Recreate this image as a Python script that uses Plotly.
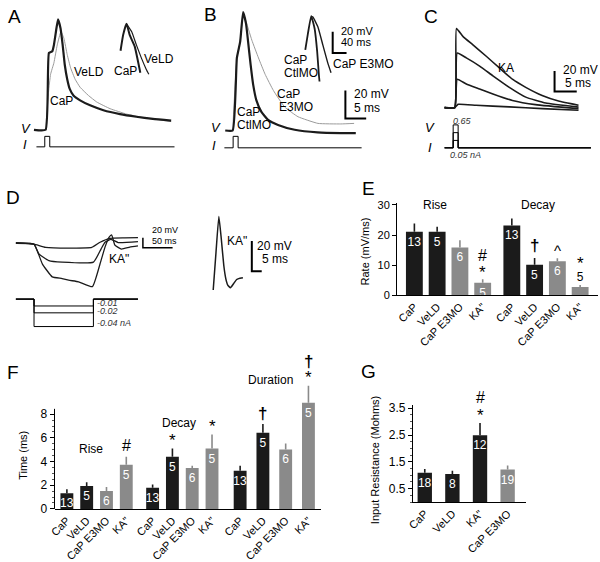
import plotly.graph_objects as go

W, H = 600, 562
FONT = "Liberation Sans, Arial, Helvetica, sans-serif"
BLACK = "#1b1b1b"
GRAY = "#8a8a8a"

# ---------------- DATA ----------------
# Panel A: action potentials (time ms, potential mV relative to rest)
a_t_cap = [-2.8, 0, 0.8, 1.6, 2.0, 2.6, 3.0, 3.6, 4.1, 4.6, 5.2, 5.8, 6.7, 8.3, 10.7, 13.9, 17.9, 21.8, 25.8, 30.2]
a_v_cap = [0, 0, 55.3, 56.5, 61.1, 72.9, 79.5, 72.9, 61.1, 47.0, 36.4, 29.4, 24.7, 21.2, 17.6, 14.1, 11.3, 9.4, 7.8, 6.6]
a_t_veld = [0, 0.7, 1.2, 2.0, 2.8, 3.7, 4.4, 5.2, 6.0, 7.1, 8.3, 10.3, 12.3, 15.5, 19.5, 23.4, 27.4, 30.2]
a_v_veld = [0, 27, 40, 48.2, 61.1, 70.6, 65.8, 54.1, 44.7, 36.4, 30.6, 24.7, 20.0, 15.2, 11.3, 8.9, 7.1, 5.9]
a_in_t_cap = [0, 7.4, 17.1, 26.6, 40.9, 50.3, 57.1]
a_in_v_cap = [0, 14.7, 25.5, 14.7, 4.1, -9.8, -20.6]
a_in_t_veld = [17.1, 24, 32.3, 45.7, 60, 74.3, 81.7]
a_in_v_veld = [25.5, 22, 17.9, 5.5, -6.7, -17.5, -22.1]
a_stim_t = [-2.2, -0.2, -0.2, 1.0, 1.0, 31.0]
a_stim_i = [0, 0, 0.65, 0.65, 0, 0]

# Panel B
b_t_ctl = [-1.8, 0, 1.0, 1.8, 2.5, 3.2, 3.7, 4.3, 4.9, 5.7, 6.9, 8.5, 10.9, 14.9, 20.4, 26.0, 29.6]
b_v_ctl = [0, 0, 52.2, 64, 85.2, 76.9, 64, 47.5, 33.4, 21.7, 13.4, 7.6, 4.0, 0.5, -1.4, -1.9, -1.9]
b_t_e3 = [0, 1.0, 1.8, 2.5, 3.0, 4.6, 6.2, 7.8, 9.8, 12.5, 15.7, 20.5, 26.0, 29.2]
b_v_e3 = [0, 52.2, 64, 84, 80.4, 65, 52.2, 40.4, 28.7, 16.9, 9.9, 5.1, 4.7, 5.1]
b_in_t_ctl = [0, 7.7, 17.1, 26.9, 34.3, 39.1, 41.1]
b_in_v_ctl = [0, 15.4, 31.7, 20, -1.5, -23, -29.8]
b_in_t_e3 = [17.1, 22, 36.3, 50.6, 64.9, 74.3]
b_in_v_e3 = [31.7, 30.8, 21.6, 4.6, -12.3, -21.5]
b_stim_t = [-2.0, 0.1, 0.1, 1.3, 1.3, 31.0]
b_stim_i = [0, 0, 0.65, 0.65, 0, 0]

# Panel C: KA responses to graded steps
c_t = [
    [-2.3, 0, 0.38, 1.88, 4.1, 7.1, 10.0, 13.0, 16.0, 19.7, 23.4, 27.9],
    [-2.3, 0, 0.54, 2.6, 5.6, 8.6, 12.3, 16.0, 20.5, 27.9],
    [-2.3, 0, 0.54, 2.6, 5.6, 8.6, 13.0, 18.2, 27.9],
    [-2.3, 0, 0.76, 4.8, 12.3, 19.7, 27.9],
]
c_v = [
    [0, 0, 76.9, 69, 61, 49.9, 38.8, 27.6, 19.7, 11.8, 6.4, 2.3],
    [0, 0, 53, 48.3, 40.4, 30.9, 19.7, 10.2, 4.5, 0.5],
    [0, 0, 27.6, 22.9, 18.1, 13.3, 7.0, 2.9, -1.0],
    [0, 0, 3.2, 2.3, 0.7, -1.0, -2.5],
]
c_stim_t = [-2.3, -0.36, -0.36, 0.76, 0.76, 30.7]
c_stim_levels = [0.21, 0.43, 0.65]

# Panel D: hyperpolarizing steps and rebound spike
d_t = [
    [-30.5, 0, 19.5, 64, 97.3, 111.2, 127.8, 152.8, 175],
    [-30.5, 0, 8.3, 25, 47.3, 100, 112.8, 119.5, 129.5, 141.7, 175],
    [-30.5, 0, 14, 30.7, 47.3, 58.3, 75, 98.3, 111.2, 119.5, 126.2, 130.7, 136.2, 147.3, 161.2, 175],
]
d_v = [
    [1.4, -2, -8.6, -10, -8.6, 2, 10, 11, 11.4],
    [0, -2, -22, -35.4, -38.6, -38.6, -12, 2, 8, 1.4, 3.4],
    [0, -2, -42, -68.6, -72, -75.4, -78.6, -88.6, -42, -8, 12, 17, -4, -12, -8, -5.4],
]
d_stim_t = [-30.5, 0, 0, 100, 100, 175]
d_stim_levels = [-0.01, -0.02, -0.04]
d2_t = [0, 1.35, 2.85, 4.1, 5.35, 6.35, 7.35, 8.7, 10.35, 11.85, 12.85, 15.0]
d2_v = [0, 23.7, 48.4, 33.4, 16.1, 7.5, 3.2, 1.5, 4.3, 6.9, 7.5, 8.0]

# Panel E: rates (mV/ms)
e_groups = ["Rise", "Decay"]
e_cats = ["CaP", "VeLD", "CaP E3MO", "KA\""]
e_colors = [BLACK, BLACK, GRAY, GRAY]
e_rise = [21.1, 21.1, 15.9, 4.1]
e_rise_err = [2.7, 1.7, 2.4, 1.2]
e_decay = [23.2, 10.1, 11.3, 2.7]
e_decay_err = [2.3, 2.3, 1.0, 0.7]
e_n_rise = [13, 5, 6, 5]
e_n_decay = [13, 5, 6, 5]
e_sig_rise = [[], [], [], ["*", "#"]]
e_sig_decay = [[], ["†"], ["^"], ["*"]]

# Panel F: times (ms)
f_groups = ["Rise", "Decay", "Duration"]
f_cats = ["CaP", "VeLD", "CaP E3MO", "KA\""]
f_colors = [BLACK, BLACK, GRAY, GRAY]
f_rise = [1.32, 1.93, 1.52, 3.72]
f_rise_err = [0.34, 0.33, 0.33, 0.69]
f_decay = [1.79, 4.41, 3.45, 5.10]
f_decay_err = [0.28, 0.69, 0.19, 1.19]
f_dur = [3.23, 6.43, 5.02, 8.97]
f_dur_err = [0.41, 0.74, 0.50, 1.43]
f_n = [13, 5, 6, 5]
f_sig_rise = [[], [], [], ["#"]]
f_sig_decay = [[], ["*"], [], ["*"]]
f_sig_dur = [[], ["†"], [], ["*", "†"]]

# Panel G: input resistance
g_cats = ["CaP", "VeLD", "KA\"", "CaP E3MO"]
g_colors = [BLACK, BLACK, BLACK, GRAY]
g_vals = [1.09, 1.05, 2.49, 1.21]
g_err = [0.14, 0.12, 0.46, 0.15]
g_n = [18, 8, 12, 19]
g_sig = [[], [], ["*", "#"], []]

# ---------------- HELPERS ----------------
fig = go.Figure()
axes = {}
annotations = []
shapes = []


def px_x(x):
    return x / W


def px_y(y):
    return 1 - y / H


def ref(a, k):
    return a if k == 1 else f"{a}{k}"


def key(a, k):
    return f"{a}axis" if k == 1 else f"{a}axis{k}"


def set_axes(k, xpx, ypx, ox, sx, oy, sy, visible=False):
    axes[key("x", k)] = dict(domain=[px_x(xpx[0]), px_x(xpx[1])],
                             range=[(xpx[0] - ox) / sx, (xpx[1] - ox) / sx],
                             visible=visible, anchor=ref("y", k), fixedrange=True)
    axes[key("y", k)] = dict(domain=[px_y(ypx[1]), px_y(ypx[0])],
                             range=[(oy - ypx[1]) / sy, (oy - ypx[0]) / sy],
                             visible=visible, anchor=ref("x", k), fixedrange=True)


def line(k, t, v, color="black", width=1.5):
    fig.add_trace(go.Scatter(x=t, y=v, mode="lines", xaxis=ref("x", k), yaxis=ref("y", k),
                             line=dict(color=color, width=width, shape="spline", smoothing=0.4),
                             hoverinfo="skip"))


def stim(k, t, level, width=1):
    fig.add_trace(go.Scatter(x=t, y=[0, 0, level, level, 0, 0], mode="lines",
                             xaxis=ref("x", k), yaxis=ref("y", k),
                             line=dict(color="black", width=width), hoverinfo="skip"))


def scalebar(k, t0, v0, dt, dv, width=2):
    shapes.append(dict(type="path", xref=ref("x", k), yref=ref("y", k),
                       path=f"M {t0} {v0 + dv} L {t0} {v0} L {t0 + dt} {v0}",
                       line=dict(color="black", width=width)))


def txt(x, y, s, size=12, xanchor="center", color="black", angle=0):
    annotations.append(dict(x=px_x(x), y=px_y(y), xref="paper", yref="paper", text=s,
                            showarrow=False, xanchor=xanchor, yanchor="middle", textangle=angle,
                            font=dict(family=FONT, size=size, color=color)))


# ---------------- TRACE PANELS ----------------
# A
set_axes(4, (20, 175), (5, 150), 40, 4.2, 128.3, 1.417)
set_axes(5, (20, 175), (130, 150), 40, 4.2, 145.7, 16.46)
set_axes(6, (100, 170), (10, 80), 115.7, 0.35, 47.7, 1.085)
line(4, a_t_veld, a_v_veld, "#9a9a9a", 1)
line(4, a_t_cap, a_v_cap, BLACK, 2.2)
stim(5, a_stim_t, 0.65)
line(6, a_in_t_veld, a_in_v_veld, BLACK, 1.2)
line(6, a_in_t_cap, a_in_v_cap, BLACK, 2)

# B
set_axes(7, (205, 365), (5, 150), 229, 4.2, 129, 1.417)
set_axes(8, (205, 365), (130, 150), 229, 4.2, 146.7, 18)
set_axes(9, (290, 350), (5, 85), 302.3, 0.35, 46.7, 1.085)
line(7, b_t_e3, b_v_e3, "#9a9a9a", 1)
line(7, b_t_ctl, b_v_ctl, BLACK, 2.2)
stim(8, b_stim_t, 0.65)
line(9, b_in_t_e3, b_in_v_e3, BLACK, 1.4)
line(9, b_in_t_ctl, b_in_v_ctl, BLACK, 1.8)
scalebar(7, 27.1, 8.7, 5, 20)
scalebar(9, 79.1, -3.0, 40, 20)

# C
set_axes(10, (425, 595), (15, 112), 453.3, 4.48, 105.7, 1.05)
set_axes(11, (425, 595), (115, 150), 453.3, 4.48, 146.7, 36)
for t, v in zip(c_t, c_v):
    line(10, t, v, BLACK, 1.6)
for lv in c_stim_levels:
    stim(11, c_stim_t, lv)
scalebar(10, 22.5, 15.6, 5, 20)

# D
set_axes(12, (5, 175), (225, 295), 28.3, 0.6, 244, 0.5)
set_axes(13, (5, 175), (296, 335), 28.3, 0.6, 301, 700)
set_axes(14, (200, 265), (205, 300), 209.3, 2.0, 291.7, 1.55)
for t, v in zip(d_t, d_v):
    line(12, t, v, BLACK, 1.3)
for lv in d_stim_levels:
    stim(13, d_stim_t, lv)
line(14, d2_t, d2_v, BLACK, 1.5)
scalebar(12, 183.3, -9, 50, 20, 1.5)
scalebar(14, 19.5, 12.3, 5, 20)

# ---------------- BAR PANELS ----------------
def add_bars(k, pos, vals, errs, ns, colors, bw, outside=None):
    for col in (BLACK, GRAY):
        idx = [i for i, c in enumerate(colors) if c == col]
        if not idx:
            continue
        tp = ["outside" if (outside and outside[i]) else "inside" for i in idx]
        fig.add_trace(go.Bar(
            x=[pos[i] for i in idx], y=[vals[i] for i in idx], width=bw,
            marker=dict(color=col, line=dict(width=0)),
            error_y=dict(type="data", symmetric=False, array=[errs[i] for i in idx],
                         arrayminus=[0] * len(idx), width=0, thickness=1.6, color=col),
            text=[str(ns[i]) for i in idx], textposition=tp, insidetextanchor="end",
            textangle=0, constraintext="none",
            insidetextfont=dict(color="white", size=12, family=FONT),
            outsidetextfont=dict(color="black", size=12, family=FONT),
            xaxis=ref("x", k), yaxis=ref("y", k), cliponaxis=False, hoverinfo="skip"))


GLYPH = {"*": -3, "#": 0, "<b>†</b>": 0, "^": -4}
SIZE = {"*": 17, "#": 16, "<b>†</b>": 17, "^": 15}


def add_sig(k, pos, tops, sigs, base=10, step=14):
    for p, top, syms in zip(pos, tops, sigs):
        for j, s in enumerate(syms):
            s = "<b>†</b>" if s == "†" else s
            annotations.append(dict(x=p, y=top, xref=ref("x", k), yref=ref("y", k), text=s,
                                    showarrow=False, yanchor="middle",
                                    yshift=base + j * step + GLYPH[s],
                                    font=dict(family=FONT, size=SIZE[s], color="black")))


def bar_axes(k, xpx, ypx, ox, sx, oy, sy, tickvals, ticktext, ytickvals, ytext, minor_vals,
             showline=True, ysize=12):
    set_axes(k, xpx, ypx, ox, sx, oy, sy, visible=True)
    axes[key("x", k)].update(tickmode="array", tickvals=tickvals, ticktext=ticktext, tickangle=-45,
                             showline=True, linecolor="black", linewidth=1, ticks="",
                             showgrid=False, zeroline=False,
                             tickfont=dict(family=FONT, size=11, color="black"))
    axes[key("y", k)].update(tickmode="array", tickvals=ytickvals, ticktext=ytext, ticks="outside",
                             ticklen=4, tickcolor="black", tickwidth=1, showline=showline,
                             linecolor="black", linewidth=1, showgrid=False, zeroline=False,
                             tickfont=dict(family=FONT, size=ysize, color="black"))
    if minor_vals:
        axes[key("y", k)]["minor"] = dict(tickmode="array", tickvals=minor_vals, ticks="outside",
                                          ticklen=2, tickcolor="#555")


# E
e_pos_rise = [0 + i for i in range(4)]
e_pos_decay = [4.28 + i for i in range(4)]
e_pos = e_pos_rise + e_pos_decay
bar_axes(1, (395, 598), (203, 297), 412.5, 23, 297, 3.067, e_pos, e_cats * 2,
         [0, 10, 20, 30], ["0", "10", "20", "30"], None, ysize=11)
add_bars(1, e_pos_rise, e_rise, e_rise_err, e_n_rise, e_colors, 0.74)
add_bars(1, e_pos_decay, e_decay, e_decay_err, e_n_decay, e_colors, 0.74,
         outside=[False, False, False, True])
add_sig(1, e_pos_rise, [v + e for v, e in zip(e_rise, e_rise_err)], e_sig_rise)
add_sig(1, e_pos_decay[:3], [v + e for v, e in zip(e_decay, e_decay_err)][:3], e_sig_decay[:3], base=12)
add_sig(1, e_pos_decay[3:], [e_decay[3] + e_decay_err[3]], e_sig_decay[3:], base=24)

# F
f_starts = [0, 4.33, 8.75]
f_steps = [1, 1, 1.15]
f_pos_groups = [[s + st * i for i in range(4)] for s, st in zip(f_starts, f_steps)]
f_pos = sum(f_pos_groups, [])
bar_axes(2, (49, 318), (365, 515), 61.5, 20, 515, 12.08, f_pos, f_cats * 3,
         [0, 2, 4, 6, 8], ["0", "2", "4", "6", "8"], [x * 0.5 for x in range(17)], showline=False)
shapes.append(dict(type="line", xref="x2 domain", yref="y2", x0=0, x1=0, y0=0, y1=8.45,
                   line=dict(color="black", width=1)))
for pos, vals, errs, sig in zip(f_pos_groups, [f_rise, f_decay, f_dur],
                                [f_rise_err, f_decay_err, f_dur_err],
                                [f_sig_rise, f_sig_decay, f_sig_dur]):
    add_bars(2, pos, vals, errs, f_n, f_colors, 0.65)
    add_sig(2, pos, [v + e for v, e in zip(vals, errs)], sig, base=11, step=13)

# G
g_pos = [0, 1, 2, 3]
bar_axes(3, (411, 525), (409, 508), 423, 27.9, 508, 27.34, g_pos, g_cats,
         [0.5, 1.5, 2.5, 3.5], ["0.5", "1.5", "2.5", "3.5"], [x * 0.25 for x in range(15)])
add_bars(3, g_pos, g_vals, g_err, g_n, g_colors, 0.52)
add_sig(3, g_pos, [v + e for v, e in zip(g_vals, g_err)], g_sig, base=10, step=15)

# ---------------- TEXT ----------------
for s, x, y in [("A", 8.5, 12.5), ("B", 207, 11), ("C", 429, 12.5), ("D", 7, 197),
                ("E", 366, 188), ("F", 7, 376), ("G", 366, 375)]:
    txt(x, y, s, size=19)

# A
txt(84, 69, "VeLD"); txt(56, 99.3, "CaP")
txt(155, 55.7, "VeLD"); txt(121, 68.3, "CaP")
txt(20, 127, "<i>V</i>", 13); txt(19, 143, "<i>I</i>", 13)
# B
txt(278.3, 56.7, "CaP", xanchor="left"); txt(278.3, 70, "CtlMO", xanchor="left")
txt(328.3, 61.7, "CaP E3MO", xanchor="left")
txt(271.7, 92.3, "CaP", xanchor="left"); txt(273.3, 105, "E3MO", xanchor="left")
txt(231.7, 110, "CaP", xanchor="left"); txt(231.7, 123.3, "CtlMO", xanchor="left")
txt(211.7, 126, "<i>V</i>", 13); txt(210, 144, "<i>I</i>", 13)
txt(336.7, 28, "20 mV", 11, xanchor="left"); txt(336.7, 39, "40 ms", 11, xanchor="left")
txt(349, 92.3, "20 mV", 12, xanchor="left"); txt(380, 106, "5 ms", 12, xanchor="right")
# C
txt(505, 65, "KA", 12)
txt(428.3, 126, "<i>V</i>", 13); txt(428.3, 146.7, "<i>I</i>", 13)
txt(449, 119, "<i>0.65</i>", 9, xanchor="left", color="#333")
txt(446.7, 154.3, "<i>0.05 nA</i>", 9, xanchor="left", color="#333")
txt(560.7, 67.8, "20 mV", 12, xanchor="left"); txt(593, 81, "5 ms", 12, xanchor="right")
# D
txt(101.7, 260, "KA\"", 12, xanchor="left")
txt(145, 231, "20 mV", 9, xanchor="left"); txt(145, 242, "50 ms", 9, xanchor="left")
txt(90, 305, "<i>-0.01</i>", 9, xanchor="left", color="#333")
txt(90, 313.3, "<i>-0.02</i>", 9, xanchor="left", color="#333")
txt(90, 325, "<i>-0.04 nA</i>", 9, xanchor="left", color="#333")
txt(221.7, 241.7, "KA\"", 12, xanchor="left")
txt(251.7, 246.7, "20 mV", 12, xanchor="left"); txt(286.7, 260.5, "5 ms", 12, xanchor="right")
# E
txt(433, 205, e_groups[0], 12); txt(537, 205, e_groups[1], 12)
txt(363, 252, "Rate (mV/ms)", 11, angle=-90)
# F
txt(86, 454, f_groups[0], 12); txt(175, 427, f_groups[1], 12); txt(267, 384, f_groups[2], 12)
txt(17, 460, "Time (ms)", 11, angle=-90)
# G
txt(373, 465, "Input Resistance (Mohms)", 11, angle=-90)

fig.update_layout(width=W, height=H, margin=dict(l=0, r=0, t=0, b=0),
                  paper_bgcolor="white", plot_bgcolor="rgba(0,0,0,0)",
                  showlegend=False, barmode="overlay",
                  uniformtext=dict(minsize=12, mode="show"),
                  font=dict(family=FONT, color="black"),
                  annotations=annotations, shapes=shapes, **axes)

fig.write_html("out.html", config={"displayModeBar": False, "staticPlot": True},
               post_script="document.body.style.margin='0';document.body.style.padding='0';"
                           "document.body.style.overflow='hidden';")
